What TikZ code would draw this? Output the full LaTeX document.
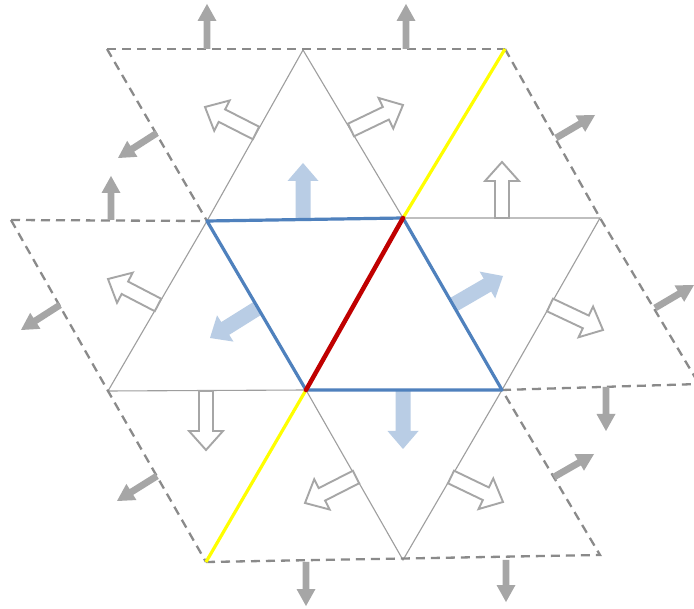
\documentclass[tikz,border=0pt]{standalone}
\usetikzlibrary{calc}
\definecolor{dashgray}{HTML}{8A8A8A}
\definecolor{thingray}{HTML}{9E9E9E}
\definecolor{arrgray}{HTML}{A6A6A6}
\definecolor{edgeblue}{HTML}{4F81BD}
\definecolor{edgered}{HTML}{C00000}
\definecolor{edgeyellow}{HTML}{FFFF00}
\definecolor{lightblue}{HTML}{B9CDE5}
\newcommand{\myarrow}[6]{%
  \coordinate (ba-s) at #2;
  \coordinate (ba-t) at #3;
  \coordinate (ba-h) at ($(ba-t)!#6!(ba-s)$);
  \path[#1] ($(ba-s)!#4!90:(ba-t)$) -- ($(ba-h)!#4!90:(ba-t)$) -- ($(ba-h)!#5!90:(ba-t)$)
    -- (ba-t) -- ($(ba-h)!#5!-90:(ba-t)$) -- ($(ba-h)!#4!-90:(ba-t)$) -- ($(ba-s)!#4!-90:(ba-t)$) -- cycle;
}
\tikzset{
  thinedge/.style={draw=thingray, line width=1.1pt},
  dashedge/.style={draw=dashgray, line width=2.3pt, dash pattern=on 9pt off 6pt},
  blueedge/.style={draw=edgeblue, line width=3.2pt, line join=round, line cap=round},
  rededge/.style={draw=edgered, line width=4.5pt, line cap=round},
  yellowedge/.style={draw=edgeyellow, line width=3.2pt},
  grayarr/.style={fill=arrgray},
  hollowarr/.style={draw=arrgray, fill=white, line width=1.9pt, line join=miter},
  bluearr/.style={fill=lightblue},
}
\begin{document}
\begin{tikzpicture}[x=1pt,y=-1pt]
\clip (0,0) rectangle (694,609);
\fill[white] (0,0) rectangle (694,609);
% vertices
\coordinate (A) at (207,221);
\coordinate (B) at (403,218);
\coordinate (C) at (502,390);
\coordinate (D) at (306,390);
\coordinate (T) at (303,50);
\coordinate (R) at (600,218);
\coordinate (L) at (108,391);
\coordinate (Bo) at (403,560);
\coordinate (OTL) at (107,49);
\coordinate (OTR) at (505,49);
\coordinate (OL) at (11,220);
\coordinate (OBL) at (206,562);
\coordinate (OBR) at (600,555);
\coordinate (OR) at (699,384);
% thin triangle edges
\draw[thinedge] (A) -- (T) -- (B);
\draw[thinedge] (B) -- (R) -- (C);
\draw[thinedge] (D) -- (Bo) -- (C);
\draw[thinedge] (A) -- (L) -- (D);
% dashed outer edges
\draw[dashedge] (OTL) -- (OTR);
\draw[dashedge] (OTL) -- (A);
\draw[dashedge] (OL) -- (A);
\draw[dashedge] (OL) -- (L) -- (OBL);
\draw[dashedge] (OBL) -- (OBR) -- (C);
\draw[dashedge] (C) -- (OR);
\draw[dashedge] (OTR) -- (R) -- (OR);
% gray solid arrows
\myarrow{grayarr}{(207,49)}{(207,4)}{3.4pt}{9.5pt}{17pt}
\myarrow{grayarr}{(406,49)}{(406,4)}{3.4pt}{9.5pt}{17pt}
\myarrow{grayarr}{(157,133)}{(118,158)}{3.4pt}{9.5pt}{17pt}
\myarrow{grayarr}{(111,220)}{(111,176)}{3.4pt}{9.5pt}{17pt}
\myarrow{grayarr}{(60,305)}{(21,330)}{3.4pt}{9.5pt}{17pt}
\myarrow{grayarr}{(157,476)}{(117,501)}{3.4pt}{9.5pt}{17pt}
\myarrow{grayarr}{(306,562)}{(306,606)}{3.4pt}{9.5pt}{17pt}
\myarrow{grayarr}{(506,560)}{(506,602)}{3.4pt}{9.5pt}{17pt}
\myarrow{grayarr}{(554,477)}{(594,454)}{3.4pt}{9.5pt}{17pt}
\myarrow{grayarr}{(606,387)}{(606,431)}{3.4pt}{9.5pt}{17pt}
\myarrow{grayarr}{(655,308)}{(694,285)}{3.4pt}{9.5pt}{17pt}
\myarrow{grayarr}{(556,138)}{(595,115)}{3.4pt}{9.5pt}{17pt}
% hollow arrows
\myarrow{hollowarr}{(256,133)}{(205,107)}{7pt}{17pt}{19pt}
\myarrow{hollowarr}{(351,130)}{(403,105)}{7pt}{17pt}{19pt}
\myarrow{hollowarr}{(502,218)}{(502,162)}{7pt}{17pt}{19pt}
\myarrow{hollowarr}{(550,305)}{(603,330)}{7pt}{17pt}{19pt}
\myarrow{hollowarr}{(451,477)}{(503,502)}{7pt}{17pt}{19pt}
\myarrow{hollowarr}{(356,477)}{(305,503)}{7pt}{17pt}{19pt}
\myarrow{hollowarr}{(206,391)}{(206,450)}{7pt}{17pt}{19pt}
\myarrow{hollowarr}{(158,305)}{(108,279)}{7pt}{17pt}{19pt}
% light blue arrows
\myarrow{bluearr}{(303,220)}{(303,163)}{7.5pt}{15.5pt}{18pt}
\myarrow{bluearr}{(258,308)}{(210,338)}{7.5pt}{15.5pt}{18pt}
\myarrow{bluearr}{(453,305)}{(503,276)}{7.5pt}{15.5pt}{18pt}
\myarrow{bluearr}{(403,390)}{(403,449)}{7.5pt}{15.5pt}{18pt}
% yellow lines
\draw[yellowedge] (B) -- (OTR);
\draw[yellowedge] (D) -- (OBL);
% central rhombus
\draw[blueedge] (A) -- (B) -- (C) -- (D) -- cycle;
\draw[rededge] (B) -- (D);
\end{tikzpicture}
\end{document}
